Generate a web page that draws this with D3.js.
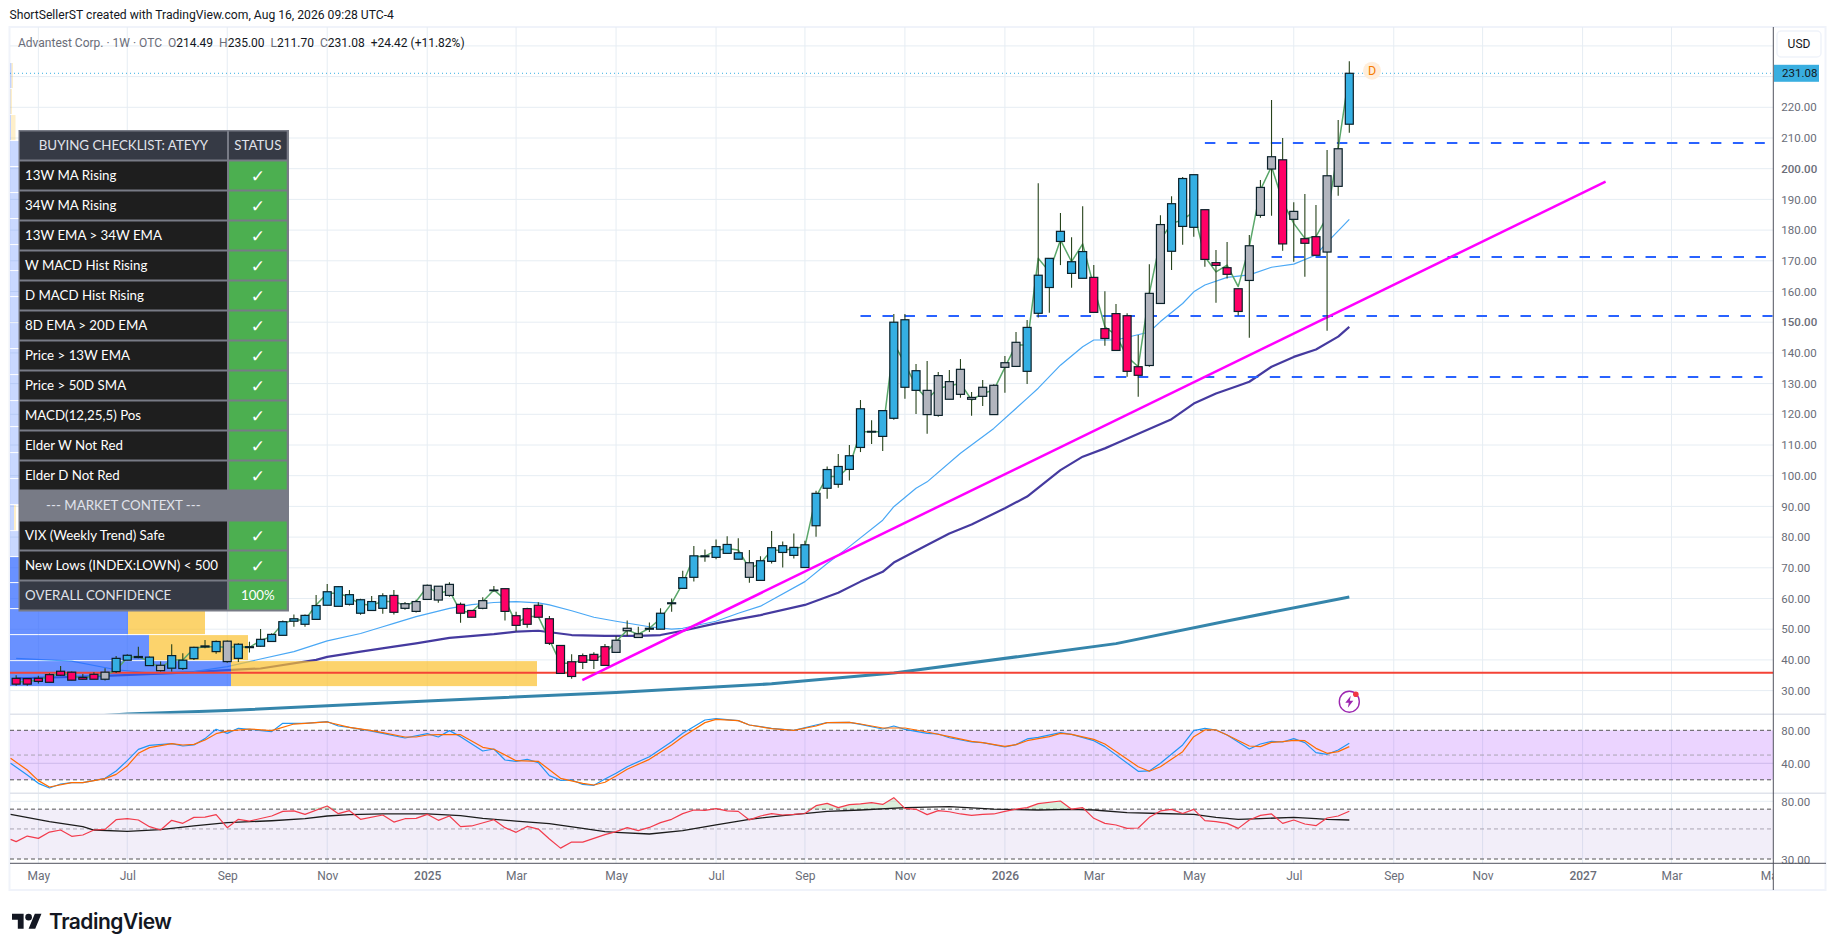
<!DOCTYPE html>
<html>
<head>
<meta charset="utf-8">
<script src="https://cdn.jsdelivr.net/npm/d3@7"></script>
<style>
  body { margin: 0; background: #fff; }
  text { font-family: Roboto, sans-serif; }
  .cell { font-family: Lato, sans-serif; font-size: 13.3px; }
</style>
</head>
<body>
<div id="chart"></div>
<script>
// weekly candles, week 0 = Apr 22 2024
const bodyTops = [34.0,33.9,34.0,35.2,36.3,36.0,34.3,35.3,36.0,40.5,41.5,41.1,40.9,38.25,41.4,39.9,44.1,44.55,46.0,46.1,45.1,44.3,46.7,48.3,
  52.45,53.4,54.5,57.7,62.2,63.85,61.25,59.6,59.0,60.9,61.0,58.3,59.0,64.3,64.0,64.6,58.1,56.1,59.3,62.75,63.2,54.4,56.7,57.8,53.4,44.7,39.4,41.4,41.8,44.3,46.4,50.3,48.5,50.3,55.2,58.6,
  66.8,73.9,73.9,76.9,77.6,74.9,71.65,72.3,76.55,77.2,76.65,77.5,94.25,102,103,106.5,121.8,114.45,121.2,150,150.8,134.2,127.8,132.6,130.65,134.65,125.5,128.8,129.45,136.8,143.45,148.3,
  165.3,170.8,179.6,169.7,173,164.6,147.9,152.8,152.1,135.5,159.4,181.8,188.6,196.8,198.05,186.65,169.4,167.75,160.9,174.9,193.9,203.9,202.9,186.1,177.2,177.85,197.7,206.5,231.08];
const bodyBottoms = [32.1,32.1,33.0,32.7,35.0,33.4,33.7,33.7,33.7,36.2,39.9,40.75,38.15,36.5,37.3,37.2,40.4,44.2,42.7,39.45,40.5,44.0,44.45,46.0,
  48.0,52.6,51.6,53.2,57.8,57.45,58.1,55.2,56.1,56.8,55.5,56.8,55.8,59.7,59.5,61.0,55.2,53.9,56.8,62.55,55.8,51.25,51.6,53.9,45.4,35.6,34.6,39.2,39.85,38.2,42.45,49.5,47.3,50.0,50.0,58.3,
  63.3,66.9,73.6,73.4,74.7,72.8,66.9,65.9,72.1,75.0,74.05,70.1,83.7,95.9,97.2,102.05,109.2,114.2,112.8,118.7,128.8,127.8,119.9,119.65,124.9,126.5,124.9,125.85,119.9,135.3,135.6,134.0,
  152.9,161.3,176.3,165.9,164.3,153.2,144.7,140.8,134.0,132.7,135.9,156.1,173.1,181.2,180.9,170.45,168.5,165.6,153.5,163.6,184.8,199.9,175.5,183.5,175.7,171.8,172.85,194.25,214.49];
const highs = [35.0,33.9,34.8,35.65,38.0,36.2,35.4,36.0,37.3,41.3,41.8,44.3,41.1,39.45,45.1,42.2,44.3,46.5,46.3,46.3,45.4,45.9,50.1,48.7,
  52.8,54.8,54.8,61.1,64.7,64.1,62.8,59.9,60.8,61.7,62.8,58.9,59.6,64.6,64.0,65.3,58.7,56.1,60.4,64.1,63.2,55.7,57.0,58.75,54.3,44.7,41.8,42.1,42.5,45.2,47.8,52.8,50.8,52.2,56.8,60.0,
  69.0,77.1,76.0,79.2,80.3,79.6,75.8,73.8,82.0,78.6,81.2,78.8,95.1,103,107.1,110,124.65,118.1,121.2,152.7,152.7,136.4,137.4,133.8,134.4,138,127.25,131.2,129.8,139,146.8,150.7,
  195.3,170.8,185.6,177.7,187.8,168.6,160.1,155.9,152.9,145.8,168.9,184.8,191,197.3,198.05,186.65,173.5,176.1,160.9,178.4,196.3,222.4,210,189.1,191.75,188.2,206.1,215.9,235];
const lows = [31.6,31.6,32.3,32.7,34.8,33.4,33.5,33.7,33.3,35.7,39.9,40.5,38.15,36.2,36.2,36.7,40.0,43.8,42.0,39.1,39.3,42.4,44.3,46.0,
  48.0,50.8,50.8,53.2,57.8,57.45,57.7,54.7,55.9,55.0,54.8,56.3,55.4,59.5,58.6,60.6,52.1,53.9,56.5,62.2,52.8,49.3,50.5,53.9,44.85,35.6,33.9,37.0,37.0,38.2,42.45,47.8,47.3,49.1,50.0,55.7,
  63.3,65.5,72.0,72.8,74.7,72.8,65.1,65.9,71.4,70.1,73.0,70.1,80.1,92.5,96.1,98.4,107.7,110.3,108.05,118.2,125.1,120.1,113.7,119.2,124.9,125.4,119.55,122.7,119.9,127,135.6,129.9,
  151.5,153.1,168.6,161.2,164.3,153.2,142.3,140.8,132.2,125.7,135.5,156.1,167,175.2,177.8,168.1,156.3,164.2,152.2,144.9,184.0,184.7,173.3,169.7,164.8,171.8,147.2,191.2,211.7];
// elder impulse colour of each candle: P pink, G gray, B blue
const impulse = ("PPPPPPPPGBBBBGBBBBBG" + "BBBBBBBBBBBBBB" + "PGGGGGPPGB" + "PPPPPPPPPP" + "GGGBBB" + "BBBBBBG" +
  "BBBBBBBBBBBBBBB" + "GGGGGGGGG" + "BBBBBB" + "PPPPPGGBBB" + "PPPPGGGPGPPGGB").split("");
// fast close line running behind the candles
const fastLine = [32.9,32.9,33.5,34.6,35.65,34.8,34.0,34.8,35.1,36.7,40.75,41.1,39.45,37.3,40,40,43.8,44.3,44.3,44.1,44.3,44.1,46.3,47.6,
  51.9,53,53,57.9,61.7,61.7,60.4,58.1,57.9,59,59,57.7,59,63.85,61.7,62.55,55.7,55.7,59,62.8,59.7,51.9,54.1,54.1,46.5,38.9,38.9,40,40,42.1,45.9,49.7,48.4,50.3,53.5,58.4,64.9,73.6,
  73.8,75.6,76.3,75.8,69.8,71.4,75.8,75.6,76.3,76.9,93.2,99.7,99.7,102.9,114.3,114.3,114.3,143.1,136.6,129,124.9,128.5,129.2,130.1,124.65,126.8,127.9,135.3,142.6,142.6,
  170.8,166.4,176.8,169.7,175.5,161.6,148.5,145.8,138.8,135.5,159.4,176.8,182.2,183.3,186,171.3,166.4,168.6,161.6,174.6,193.1,200.7,189.3,182.2,177.3,177.9,184.4,206.6,231.1];

const ema13Weeks = [0,5,9,12,16,19,22,25,28,31,33,34,36,39,41,43,45,47,48,50,52,54,57,59,60,63,65,67,71,73,75,78,79,81,82,85,88,91,92,94,96,97,99,102,103,105,106,107,109,111,113,115,117,118,120];
const ema13Values = [40.5,39.6,36.8,35.8,36.2,37.8,40.3,42.7,46.2,48.6,50.8,51.9,54.1,56.8,58,58.7,59,58.6,57.9,56,53.9,52.6,50.8,50,50.3,52.6,55.2,57.5,65.5,71.4,76.9,85.5,89.9,95.9,98,107.3,115.4,125.2,128.5,136,142,144.2,144.2,146.8,150.2,156.1,159.9,162.1,164.6,165.4,167.9,168.9,171.9,176,183.5];
const ema34Weeks = [0,4,8,14,19,22,27,28,31,34,36,39,43,45,47,50,53,56,58,60,63,65,67,71,74,76,78,79,82,84,86,89,91,94,96,98,99,104,106,108,110,111,113,115,117,119,120];
const ema34Values = [34,34.35,34.8,35.65,36.7,37.2,40,41,42.7,44.3,45.4,47.2,48.4,49.2,49.5,48.1,47.8,47.8,48.1,49.5,51.9,53.3,54.6,57.9,61.9,65.5,68.7,71.7,77.4,81.2,84.1,89.4,93.2,101.8,106.2,108.9,110.5,118.4,123.5,126.8,129.3,130.6,135.5,138.7,141.1,145.3,148.5];
const ma200Weeks = [0,10,19,37,54,58,68,79,99,109,120];
const ma200Values = [20,22.4,23.5,26.6,29.4,30.2,32.2,35.7,45.3,52.7,60.5];

// drawings: level price, first week, last week
const levelPrices = [208.4,171.2,152,132.15];
const levelStarts = [107,113,76,97];
const levelEnds = [157.4,157.5,158.1,157.2];
const trendWeeks = [50.96,143.07];
const trendPrices = [33.45,195.8];
const supportPrice = 35.85;
const lastClose = 231.08;

// volume profile, rows from the bottom up
const vpRowPrices = [31.3,39.77,48.24,56.71,65.18,73.65,82.12,90.59,99.06,107.53,116,124.47,132.94,141.41,149.88,158.35,166.82,175.29,183.76,192.23,200.7,209.17,217.64,226.11];
const vpUp = [221,139,118,30,30,30,4,30,30,30,30,30,30,30,30,30,30,30,30,30,30,1,0.5,1.5];
const vpDown = [306,99,77,0,0,0,2,0,0,0,0,0,0,0,0,0,0,0,0,0,0,4.5,1.5,1.5];
const vpRowStep = 8.47;
const vpValueAreaRows = 5;

// stochastic pane
const stochFastWeeks = [-0.5,1,2,3,4,5,6,8,9,10,11,12,14,15,16,17,18,19,20,21,23,24,26,28,29,30,32,33,35,37,38,39,40,42,43,44,45,46,47,48,49,50,51,52,53,54,55,57,59,60,62,63,65,66,68,70,72,73,75,76,78,79,80,82,83,84,86,87,89,90,91,92,94,95,97,98,101,102,103,105,106,107,108,109,111,112,113,114,115,116,117,118,119,120];
const stochFastValues = [40,25.8,15.7,10.1,14.9,16.5,16.5,21.8,30.7,43.2,56.9,61.8,63.8,61,62.2,69.9,81.2,76.3,82.4,81.2,78.4,88.5,88.5,90.5,85.2,83.6,79.1,76.3,70.7,75.9,71.9,79.6,72.3,54.9,57.3,44,42.4,44.8,40.8,25,19.4,19.8,14.5,13.3,21,27.9,35.9,48,66.2,76.3,92.5,94.1,91.7,86.4,82.4,80,86.4,89.3,89.7,87.2,81.6,85.2,81.2,76.3,75.5,71,65.8,65,59.8,62.6,69.5,71.5,77.1,75.1,67.4,60.2,30.3,30.7,40,62.2,79.6,82.4,80.4,74.3,57.3,63.4,66.6,65.8,69.9,65,52.9,50.9,56.1,64.2];
const stochSlowWeeks = [-0.5,1,2,3,5,6,8,9,10,11,12,14,15,16,17,18,19,21,23,25,28,30,32,33,35,36,37,38,39,40,42,43,45,47,49,51,52,53,54,55,57,59,60,62,63,65,66,68,70,72,73,75,76,78,80,82,84,86,87,89,90,91,93,94,95,97,98,101,102,103,105,106,107,108,109,111,112,113,114,115,116,117,118,119,120];
const stochSlowValues = [46,31.9,19,11.3,16.5,16.5,21.4,26.6,36.7,52.1,59,63.8,62.2,63,68.2,75.9,79.1,81.6,79.6,87.6,90.1,83.6,79.6,77.1,71.9,71.9,74.3,74.7,74.7,74.7,59.4,57,43.2,42.4,21.8,15.7,13.7,17,24.6,32.7,44.8,62.2,72.3,89.3,93.3,91.7,86.4,82,80,85.2,89.3,89.7,87.6,82.8,82.8,77.9,72.3,66.6,65,60.6,62.6,67.4,72.3,76.3,75.1,69,63.4,35.9,30.3,35.9,54.1,72.3,80.4,80.4,74.3,61,60.2,65.4,66.2,67.8,67.4,58.1,52.1,54.1,60.2];

// rsi pane
const rsiWeeks = [-0.5,0,1,2,3,4,5,6,7,8,9,10,11,12,13,14,15,16,17,18,19,20,21,23,24,25,26,28,29,30,31,33,34,35,36,37,38,39,40,41,43,44,45,46,47,48,49,50,51,53,54,55,56,57,58,59,60,61,62,63,64,65,66,67,68,69,70,71,72,73,74,75,76,77,78,79,80,81,82,83,84,85,86,87,88,89,90,91,92,94,95,96,97,98,99,100,101,102,103,104,105,106,107,108,109,110,111,112,113,114,115,116,117,118,119,120];
const rsiValues = [41.9,40.3,44.3,42.6,47.4,49.1,44.1,45.1,49.1,49.6,58.5,59.5,58.2,52,49.1,57.9,55,60.9,61.2,63.7,51.1,58.9,57.2,62.3,67.4,68,64.1,73.8,64.8,68.2,58.9,63.4,56.2,59.5,59.9,64.1,57.9,62.3,52,52.6,58.5,51.1,47.2,52.2,49.9,42.1,36.1,40,40,45.4,47.8,51.1,48.6,51.3,55.7,58.9,64.9,69,68.6,70.6,67.9,67.4,58.3,62.3,64.9,63.4,64,65,74.3,77.3,71.8,75.6,76.6,78.2,75.9,85.1,71,69.8,63.8,68.3,67,64.5,63,64,64.5,67.4,70,71.8,76.9,80.4,70,71.8,59.9,55,53.5,50.5,50.8,60.9,67.9,69.8,65,69.8,57.6,56.6,55,50.5,58.2,63,64.5,55,58.2,54.4,52.9,60.2,62.3,67.5];
const rsiMaWeeks = [-0.5,3,6,7,10,13,16,19,23,26,28,30,33,37,40,42,45,48,51,53,54,57,60,63,66,69,73,76,80,84,88,92,95,97,100,103,106,108,109,110,112,115,117,118,120];
const rsiMaValues = [64.1,56.6,52,49.1,48,49.4,52.6,55.6,57.5,59.5,62.3,63.7,64.5,64.5,62.7,59.9,57.2,54.8,50.4,47.8,47.2,45.9,48.6,53.5,58.9,62.7,67.4,69,71.8,73.1,70,69,69.8,69,66,65,64,60.9,59.9,58.9,59.6,60.9,59.6,58.9,58.2];

// axes
const priceTicks = d3.range(30, 221, 10);
const timeLabels = ["May","Jul","Sep","Nov","2025","Mar","May","Jul","Sep","Nov","2026","Mar","May","Jul","Sep","Nov","2027","Mar","May"];
const timeWeeks = [2,10,19,28,37,45,54,63,71,80,89,97,106,115,124,132,141,149,158];

// checklist table
const checklistRows = ["13W MA Rising","34W MA Rising","13W EMA > 34W EMA","W MACD Hist Rising","D MACD Hist Rising","8D EMA > 20D EMA","Price > 13W EMA","Price > 50D SMA","MACD(12,25,5) Pos","Elder W Not Red","Elder D Not Red","--- MARKET CONTEXT ---","VIX (Weekly Trend) Safe","New Lows (INDEX:LOWN) < 500","OVERALL CONFIDENCE"];
const checklistStatus = ["✓","✓","✓","✓","✓","✓","✓","✓","✓","✓","✓","","✓","✓","100%"];

const width = 1835, height = 951;
const paneLeft = 10, paneRight = 1773.3, paneTop = 27, paneEnd = 890;
const mainBottom = 714.3, stochBottom = 793.3, rsiBottom = 863.3;

const svg = d3.select("#chart").append("svg").attr("width", width).attr("height", height);

const x = d3.scaleLinear().domain([0, 120]).range([16.16, 1349.3]);
const y = d3.scaleLinear().domain([30, 220]).range([690.6, 107.3]);
const yStoch = d3.scaleLinear().domain([20, 80]).range([779.8, 730.3]);
const yRsi = d3.scaleLog().domain([30, 80]).range([859, 801.3]);
const xVol = d3.scaleLinear().domain([0, 527]).range([paneLeft, 537]);

const colors = { B: "#35afe3", P: "#ff0066", G: "#b2b5be" };
const gridColor = "#e6edf3";

function addClip(id, y0, y1) {
    svg.append("clipPath").attr("id", id).append("rect")
        .attr("x", paneLeft).attr("y", y0).attr("width", paneRight - paneLeft).attr("height", y1 - y0);
    return svg.append("g").attr("clip-path", `url(#${id})`);
}

function drawLine(g, xs, ys, yScale, color, w) {
    const path = d3.line().x(d => x(d[0])).y(d => yScale(d[1]));
    g.append("path").attr("d", path(d3.zip(xs, ys)))
        .attr("fill", "none").attr("stroke", color).attr("stroke-width", w)
        .attr("stroke-linejoin", "round");
}

// frame and panes
svg.append("rect").attr("x", 9.5).attr("y", paneTop).attr("width", 1816).attr("height", paneEnd - paneTop)
    .attr("fill", "#fff").attr("stroke", "#f0f3fa").attr("stroke-width", 2);

// vertical and horizontal grid
const gridG = svg.append("g").attr("stroke", gridColor);
gridG.selectAll(".v").data(timeWeeks.filter(w => w < 158)).enter().append("line")
    .attr("x1", d => x(d)).attr("x2", d => x(d)).attr("y1", paneTop).attr("y2", rsiBottom);
gridG.selectAll(".h").data(priceTicks.concat([230, 240])).enter().append("line")
    .attr("x1", paneLeft).attr("x2", paneRight).attr("y1", d => y(d)).attr("y2", d => y(d));
gridG.append("line").attr("x1", paneLeft).attr("x2", paneRight).attr("y1", yRsi(80)).attr("y2", yRsi(80));

// main pane
const main = addClip("mainClip", paneTop, mainBottom);
main.append("line").attr("x1", paneLeft).attr("x2", paneRight).attr("y1", y(lastClose)).attr("y2", y(lastClose))
    .attr("stroke", "#35afe3").attr("stroke-dasharray", "1 3");
drawLine(main, ma200Weeks, ma200Values, y, "#3585ab", 3);
drawLine(main, ema34Weeks, ema34Values, y, "#453a9f", 2.2);
drawLine(main, ema13Weeks, ema13Values, y, "#4aa8f5", 1.2);

// volume profile sits over the averages but under the candles
const vpRows = vpRowPrices.map((p, i) => ({ p, up: vpUp[i], down: vpDown[i], strong: i < vpValueAreaRows }));
const rowRect = (sel) => sel.attr("y", d => y(d.p + vpRowStep) + 0.5)
    .attr("height", d => y(d.p) - y(d.p + vpRowStep) - 1);
main.selectAll(".vpUp").data(vpRows).enter().append("rect").call(rowRect)
    .attr("x", paneLeft).attr("width", d => xVol(d.up) - paneLeft)
    .attr("fill", "#2962ff").attr("fill-opacity", d => d.strong ? 0.7 : 0.25);
main.selectAll(".vpDown").data(vpRows).enter().append("rect").call(rowRect)
    .attr("x", d => xVol(d.up)).attr("width", d => xVol(d.up + d.down) - xVol(d.up))
    .attr("fill", "#fbc02d").attr("fill-opacity", d => d.strong ? 0.7 : 0.25);

// support, levels and trendline
main.append("line").attr("x1", paneLeft).attr("x2", paneRight).attr("y1", y(supportPrice)).attr("y2", y(supportPrice))
    .attr("stroke", "#f44336").attr("stroke-width", 2);
main.selectAll(".level").data(levelPrices).enter().append("line")
    .attr("x1", (d, i) => x(levelStarts[i])).attr("x2", (d, i) => x(levelEnds[i]))
    .attr("y1", d => y(d)).attr("y2", d => y(d))
    .attr("stroke", "#2962ff").attr("stroke-width", 2).attr("stroke-dasharray", "10.5 11.5");
drawLine(main, trendWeeks, trendPrices, y, "#ff00ff", 2.5);
drawLine(main, d3.range(fastLine.length), fastLine, y, "#5aa76a", 1.5);

// candles
const candles = bodyTops.map((t, i) => ({ i, t, b: bodyBottoms[i], h: highs[i], l: lows[i], c: impulse[i] }));
const candleG = main.selectAll(".candle").data(candles).enter().append("g");
candleG.append("line").attr("x1", d => x(d.i)).attr("x2", d => x(d.i))
    .attr("y1", d => y(d.h)).attr("y2", d => y(d.l))
    .attr("stroke", "#27431b").attr("stroke-width", 1.1);
candleG.append("rect").attr("x", d => x(d.i) - 4).attr("width", 8)
    .attr("y", d => y(d.t)).attr("height", d => Math.max(y(d.b) - y(d.t), 0.5))
    .attr("fill", d => colors[d.c]).attr("stroke", "#0a2029").attr("stroke-width", 1.2);

// earnings and dividend markers
const dX = x(120) + 22.7, dY = y(lastClose) - 2.6;
svg.append("circle").attr("cx", dX).attr("cy", dY).attr("r", 9).attr("fill", "#ffeedb");
svg.append("text").attr("x", dX).attr("y", dY + 4.5).attr("text-anchor", "middle")
    .attr("font-size", 12.5).attr("fill", "#f57c00").text("D");

const boltX = x(120), boltY = 701.7;
svg.append("ellipse").attr("cx", boltX).attr("cy", boltY).attr("rx", 10).attr("ry", 10.5)
    .attr("fill", "#fff").attr("stroke", "#9c27b0").attr("stroke-width", 1.4);
svg.append("path").attr("transform", `translate(${boltX},${boltY})`)
    .attr("d", "M1.5 -6 L-4 1 L-0.5 1 L-1.5 6 L4 -1 L0.5 -1 Z").attr("fill", "#9c27b0");
svg.append("circle").attr("cx", boltX + 6.5).attr("cy", boltY - 7.5).attr("r", 2.8)
    .attr("fill", "#f23645");

// stochastic pane
const stoch = addClip("stochClip", mainBottom, stochBottom);
stoch.append("rect").attr("x", paneLeft).attr("width", paneRight - paneLeft)
    .attr("y", yStoch(80)).attr("height", yStoch(20) - yStoch(80))
    .attr("fill", "#9c27ff").attr("fill-opacity", 0.2);
stoch.append("line").attr("x1", paneLeft).attr("x2", paneRight).attr("y1", yStoch(40)).attr("y2", yStoch(40))
    .attr("stroke", "#cdb8ec");
[[80, "#555"], [50, "#a9a5b2"], [20, "#555"]].forEach(([v, c]) => {
    stoch.append("line").attr("x1", paneLeft).attr("x2", paneRight).attr("y1", yStoch(v)).attr("y2", yStoch(v))
        .attr("stroke", c).attr("stroke-dasharray", "4 3");
});
drawLine(stoch, stochFastWeeks, stochFastValues, yStoch, "#2196f3", 1.2);
drawLine(stoch, stochSlowWeeks, stochSlowValues, yStoch, "#ff6d00", 1.2);

// rsi pane
const rsiG = addClip("rsiClip", stochBottom, rsiBottom);
rsiG.append("rect").attr("x", paneLeft).attr("width", paneRight - paneLeft)
    .attr("y", yRsi(70)).attr("height", yRsi(30) - yRsi(70))
    .attr("fill", "#7e57c2").attr("fill-opacity", 0.1);
[[70, "#555"], [50, "#a9a5b2"], [30, "#555"]].forEach(([v, c]) => {
    rsiG.append("line").attr("x1", paneLeft).attr("x2", paneRight).attr("y1", yRsi(v)).attr("y2", yRsi(v))
        .attr("stroke", c).attr("stroke-dasharray", "4 3");
});
const overbought = d3.area().x(d => x(d[0])).y0(yRsi(70)).y1(d => yRsi(Math.max(d[1], 70)));
rsiG.append("path").attr("d", overbought(d3.zip(rsiWeeks, rsiValues))).attr("fill", "#4caf50").attr("fill-opacity", 0.2);
drawLine(rsiG, rsiMaWeeks, rsiMaValues, yRsi, "#1c1c1c", 1.3);
drawLine(rsiG, rsiWeeks, rsiValues, yRsi, "#f23b4c", 1.2);

// pane dividers
[mainBottom, stochBottom].forEach(v => {
    svg.append("line").attr("x1", paneLeft).attr("x2", 1826).attr("y1", v).attr("y2", v)
        .attr("stroke", "#e0e3eb").attr("stroke-width", 1.5);
});

// axes
function styleAxis(g) {
    g.select(".domain").remove();
    g.selectAll("text").attr("font-size", 11.5).attr("fill", "#6a6d78");
}
svg.append("g").attr("transform", `translate(${paneRight},0)`)
    .call(d3.axisRight(y).tickValues(priceTicks).tickFormat(d3.format(".2f")).tickPadding(8).tickSize(0))
    .call(styleAxis)
    .selectAll("text").attr("font-weight", d => d === 200 || d === 150 ? 500 : 400);
svg.append("g").attr("transform", `translate(${paneRight},0.5)`)
    .call(d3.axisRight(yStoch).tickValues([80, 40]).tickFormat(d3.format(".2f")).tickPadding(8).tickSize(0))
    .call(styleAxis);
svg.append("g").attr("transform", `translate(${paneRight},0.5)`)
    .call(d3.axisRight(yRsi).tickValues([80, 30]).tickFormat(d3.format(".2f")).tickPadding(8).tickSize(0))
    .call(styleAxis);

const timeAxisG = addClip("timeClip", rsiBottom, paneEnd);
timeAxisG.append("g").attr("transform", `translate(0,${rsiBottom})`)
    .call(d3.axisBottom(x).tickValues(timeWeeks).tickFormat((d, i) => timeLabels[i]).tickSize(0).tickPadding(8))
    .call(g => g.select(".domain").remove())
    .selectAll("text")
    .attr("font-size", 12)
    .attr("font-weight", (d, i) => timeLabels[i].length > 3 ? 500 : 400)
    .attr("fill", "#6a6d78");

svg.append("line").attr("x1", paneRight).attr("x2", paneRight).attr("y1", paneTop).attr("y2", paneEnd).attr("stroke", "#50535e");
svg.append("line").attr("x1", paneLeft).attr("x2", 1826).attr("y1", rsiBottom).attr("y2", rsiBottom).attr("stroke", "#50535e");

// currency button and last price label
svg.append("rect").attr("x", 1777).attr("y", 31).attr("width", 44).attr("height", 26).attr("rx", 4)
    .attr("fill", "#fff").attr("stroke", "#f0f3fa").attr("stroke-width", 1.5);
svg.append("text").attr("x", 1799).attr("y", 48).attr("text-anchor", "middle")
    .attr("font-size", 12).attr("fill", "#131722").text("USD");
svg.append("rect").attr("x", paneRight + 0.7).attr("y", y(lastClose) - 8.5).attr("width", 45).attr("height", 17)
    .attr("fill", "#39aee0");
svg.append("text").attr("x", 1782).attr("y", y(lastClose) + 4.2)
    .attr("font-size", 11.5).attr("fill", "#131722").text(d3.format(".2f")(lastClose));

// title and legend
svg.append("text").attr("x", 9.5).attr("y", 19).attr("font-size", 12.15).attr("fill", "#131722")
    .text("ShortSellerST created with TradingView.com, Aug 16, 2026 09:28 UTC-4");
const legend = svg.append("text").attr("x", 18).attr("y", 46.5).attr("font-size", 12).attr("fill", "#131722");
legend.append("tspan").attr("fill", "#6a6d78").text("Advantest Corp. · 1W · OTC");
[["O", "214.49"], ["H", "235.00"], ["L", "211.70"], ["C", "231.08"]].forEach(([k, v]) => {
    legend.append("tspan").attr("dx", 6).attr("fill", "#6a6d78").text(k);
    legend.append("tspan").text(v);
});
legend.append("tspan").attr("dx", 6).text("+24.42 (+11.82%)");

// checklist table
const tableG = svg.append("g");
const rowH = 30, tableTop = 130, labelX = 19.8, labelW = 207.2, statusX = 229, statusW = 57.7;
tableG.append("rect").attr("x", 18.5).attr("y", tableTop).attr("width", 270.5).attr("height", 481.5).attr("fill", "#787b86");
tableG.append("rect").attr("x", labelX).attr("y", tableTop + 1.5).attr("width", labelW).attr("height", rowH - 2).attr("fill", "#363a45");
tableG.append("rect").attr("x", statusX).attr("y", tableTop + 1.5).attr("width", statusW).attr("height", rowH - 2).attr("fill", "#363a45");
tableG.append("text").attr("x", labelX + labelW / 2).attr("y", tableTop + 20).attr("text-anchor", "middle")
    .attr("class", "cell").attr("fill", "#e0e3eb").text("BUYING CHECKLIST: ATEYY");
tableG.append("text").attr("x", statusX + statusW / 2).attr("y", tableTop + 20).attr("text-anchor", "middle")
    .attr("class", "cell").attr("fill", "#e0e3eb").text("STATUS");

const contextRow = 11, lastRow = checklistRows.length - 1;
const rowsG = tableG.selectAll(".row").data(checklistRows).enter().append("g")
    .attr("transform", (d, i) => `translate(0,${tableTop + rowH * (i + 1) + 1.5})`);
rowsG.filter((d, i) => i !== contextRow).append("rect")
    .attr("x", labelX).attr("width", labelW).attr("height", rowH - 2)
    .attr("fill", (d) => d === checklistRows[lastRow] ? "#363a45" : "#1e1e1e");
rowsG.filter((d, i) => i !== contextRow).append("rect")
    .attr("x", statusX).attr("width", statusW).attr("height", rowH - 2).attr("fill", "#4caf50");
rowsG.append("text")
    .attr("x", (d, i) => i === contextRow ? labelX + labelW / 2 : 25)
    .attr("text-anchor", (d, i) => i === contextRow ? "middle" : "start")
    .attr("y", 18.5).attr("class", "cell")
    .attr("fill", (d, i) => i === contextRow || i === lastRow ? "#e0e3eb" : "#fff")
    .text(d => d);
rowsG.append("text").attr("x", statusX + statusW / 2).attr("y", (d, i) => i === lastRow ? 18.5 : 20)
    .attr("text-anchor", "middle").attr("class", "cell").attr("fill", "#fff")
    .style("font-family", (d, i) => i === lastRow ? null : "'DejaVu Sans'")
    .style("font-size", (d, i) => i === lastRow ? null : "17px")
    .style("font-weight", (d, i) => i === lastRow ? null : "bold")
    .text((d, i) => checklistStatus[i]);

// logo
const logo = svg.append("g").attr("transform", "translate(12,910.5) scale(0.83)").attr("fill", "#131722");
logo.append("path").attr("d", "M14 22H7V11H0V4h14v18zM28 22h-8l7.5-18h8L28 22z");
logo.append("circle").attr("cx", 20).attr("cy", 8).attr("r", 4);
svg.append("text").attr("x", 49).attr("y", 928.5).attr("font-size", 21).attr("font-weight", 600)
    .attr("letter-spacing", -0.5).attr("fill", "#131722")
    .style("font-family", "Inter, sans-serif").text("TradingView");
</script>
</body>
</html>
